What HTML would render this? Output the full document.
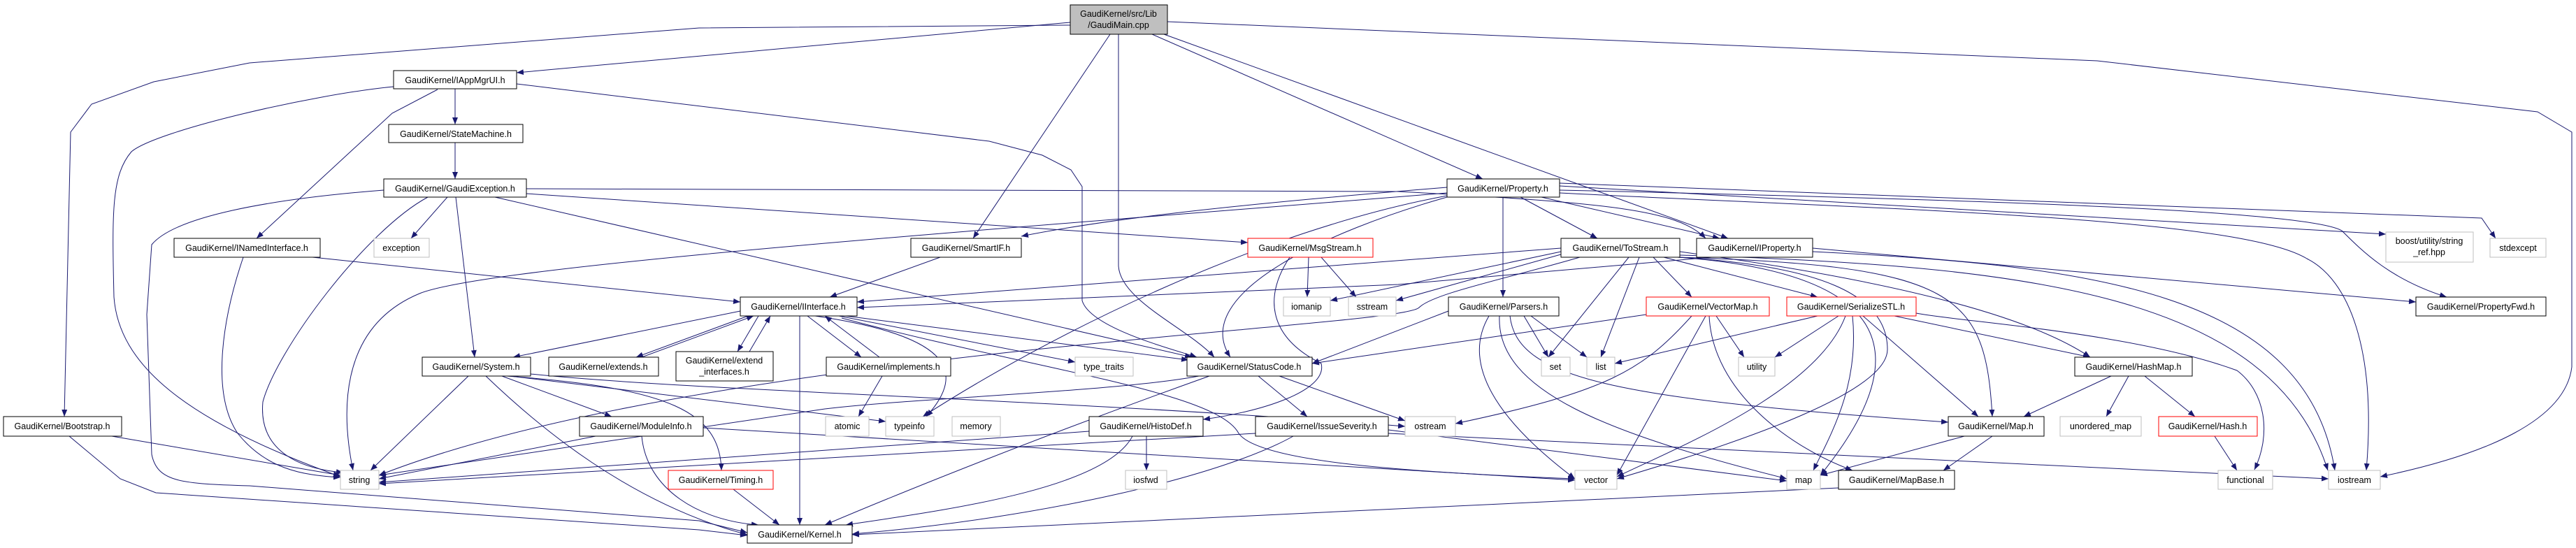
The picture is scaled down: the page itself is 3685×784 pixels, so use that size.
<!DOCTYPE html>
<html><head><meta charset="utf-8"><style>
html,body{margin:0;padding:0;background:#fff;}
svg{display:block;}
text{font-family:"Liberation Sans",sans-serif;font-size:12.5px;fill:#000;text-anchor:middle;}
.e{fill:none;stroke:#191970;stroke-width:1;marker-end:url(#a);}
.b{fill:#fff;stroke:#000;stroke-width:1;}
.r{fill:#fff;stroke:#ff0000;stroke-width:1;}
.g{fill:#fff;stroke:#bfbfbf;stroke-width:1;}
</style></head><body>
<svg width="3685" height="784" viewBox="0 0 3685 784" xmlns="http://www.w3.org/2000/svg">
<defs><marker id="a" markerWidth="10" markerHeight="8" refX="10" refY="4" orient="auto" markerUnits="userSpaceOnUse"><path d="M0,0 L10,4 L0,8 z" fill="#191970"/></marker></defs>
<g>
<path class="e" d="M1531,32 L739,104"/>
<path class="e" d="M1531,36 L1000,40 L357,90 L220,117 L131,149 L101,189 L92,596"/>
<path class="e" d="M1588,49 L1392,341"/>
<path class="e" d="M1600,49 L1600,380 C1602,430 1700,470 1737,511"/>
<path class="e" d="M1648,49 L2121,256"/>
<path class="e" d="M1665,49 L2472,341"/>
<path class="e" d="M1670,31 L3000,87 L3630,160 L3679,189 L3679,525 C3670,600 3560,650 3405,682"/>
<path class="e" d="M651,127 L651,178"/>
<path class="e" d="M626,128 L561,162 L367,341"/>
<path class="e" d="M563,124 C447,135 223,187 188,217 C160,250 160,300 163,425 C170,520 260,600 487,682"/>
<path class="e" d="M739,120 L1415,202 L1491,222 L1532,243 L1548,267 L1548,430 C1560,470 1680,500 1712,511"/>
<path class="e" d="M651,204 L651,256"/>
<path class="e" d="M640,282 L588,341"/>
<path class="e" d="M652,282 L679,511"/>
<path class="e" d="M612,282 C523,330 396,500 376,575 C370,640 420,670 491,676"/>
<path class="e" d="M549,272 C383,285 250,310 217,350 L210,450 L217,650 C225,690 260,692 357,695 L1000,745 L1069,762"/>
<path class="e" d="M708,282 L1705,511"/>
<path class="e" d="M753,277 L1785,347"/>
<path class="e" d="M753,270 L2000,274 C2300,290 2400,300 2440,341"/>
<path class="e" d="M348,368 C320,450 300,560 340,620 C380,670 430,680 487,683"/>
<path class="e" d="M447,368 L1059,432"/>
<path class="e" d="M1345,368 L1187,425"/>
<path class="e" d="M1144,452 L1144,751"/>
<path class="e" d="M1059,445 L734,511"/>
<path class="e" d="M1070,452 L910,511"/>
<path class="e" d="M918,511 L1078,452"/>
<path class="e" d="M1085,452 L1055,503"/>
<path class="e" d="M1072,503 L1102,452"/>
<path class="e" d="M1155,452 L1232,511"/>
<path class="e" d="M1258,511 L1180,452"/>
<path class="e" d="M1200,452 L1538,518"/>
<path class="e" d="M1210,452 L1700,515"/>
<path class="e" d="M1166,452 C1357,480 1385,530 1325,596"/>
<path class="e" d="M1204,455 C1485,530 1740,560 1772,620 C1800,660 2000,675 2253,685"/>
<path class="e" d="M670,538 L530,673"/>
<path class="e" d="M695,538 C770,610 900,720 1069,765"/>
<path class="e" d="M718,538 L875,596"/>
<path class="e" d="M725,538 C960,555 1030,590 1032,673"/>
<path class="e" d="M730,538 L1267,603"/>
<path class="e" d="M759,535 C1000,560 1500,570 2010,610"/>
<path class="e" d="M1262,538 L1228,596"/>
<path class="e" d="M852,624 L542,685"/>
<path class="e" d="M918,624 C925,700 1000,745 1085,751"/>
<path class="e" d="M1006,612 L2253,687"/>
<path class="e" d="M1049,700 L1115,751"/>
<path class="e" d="M160,624 L487,680"/>
<path class="e" d="M99,624 L172,685 L223,705 L1000,758 L1069,766"/>
<path class="e" d="M1800,538 L1870,596"/>
<path class="e" d="M1730,538 C1500,620 1300,700 1180,751"/>
<path class="e" d="M1715,538 C1600,560 1300,570 1180,585 L542,680"/>
<path class="e" d="M1830,538 L2010,602"/>
<path class="e" d="M1640,624 L1640,673"/>
<path class="e" d="M1620,624 C1580,700 1350,730 1210,751"/>
<path class="e" d="M1558,617 L542,690"/>
<path class="e" d="M1850,624 C1750,680 1500,740 1219,764"/>
<path class="e" d="M1796,620 L542,692"/>
<path class="e" d="M1986,615 L2556,688"/>
<path class="e" d="M1986,620 L3331,685"/>
<path class="e" d="M1872,368 L1870,425"/>
<path class="e" d="M1890,368 L1940,425"/>
<path class="e" d="M1845,368 C1810,420 1810,480 1890,520 C1900,560 1800,590 1721,600"/>
<path class="e" d="M2150,282 L2150,425"/>
<path class="e" d="M2175,282 L2285,341"/>
<path class="e" d="M2205,282 L2460,341"/>
<path class="e" d="M2070,268 C1800,290 1600,310 1461,338"/>
<path class="e" d="M2070,276 C1400,330 700,380 600,420 C480,470 490,600 505,673"/>
<path class="e" d="M2070,280 C1800,330 1500,480 1320,596"/>
<path class="e" d="M2070,282 C1900,330 1700,420 1760,511"/>
<path class="e" d="M2231,266 L3413,335"/>
<path class="e" d="M2231,262 L3550,312 L3570,341"/>
<path class="e" d="M2231,272 C2800,285 3300,300 3350,330 C3380,360 3420,400 3500,425"/>
<path class="e" d="M2231,276 C2700,300 3200,310 3300,370 C3360,400 3400,500 3385,673"/>
<path class="e" d="M2330,368 L2215,511"/>
<path class="e" d="M2345,368 L2290,511"/>
<path class="e" d="M2365,368 L2420,425"/>
<path class="e" d="M2380,368 L2600,425"/>
<path class="e" d="M2233,360 L1903,430"/>
<path class="e" d="M2240,362 L1997,430"/>
<path class="e" d="M2233,355 L1226,432"/>
<path class="e" d="M2260,368 C2150,400 2050,420 2030,440 C2000,470 1000,500 542,680"/>
<path class="e" d="M2400,368 C2600,380 2700,420 2700,500 C2700,560 2500,630 2313,685"/>
<path class="e" d="M2400,368 C2700,390 2750,500 2604,680"/>
<path class="e" d="M2400,368 C2800,380 2840,420 2850,596"/>
<path class="e" d="M2403,360 C2700,400 2900,450 2990,511"/>
<path class="e" d="M2403,365 C2900,380 3250,420 3330,673"/>
<path class="e" d="M2593,355 L3456,432"/>
<path class="e" d="M2593,360 C3000,380 3300,420 3340,673"/>
<path class="e" d="M2460,367 L2000,407 L1226,440"/>
<path class="e" d="M2180,452 L2215,511"/>
<path class="e" d="M2190,452 L2270,511"/>
<path class="e" d="M2130,452 C2090,520 2140,600 2253,685"/>
<path class="e" d="M2145,452 C2140,560 2300,620 2556,685"/>
<path class="e" d="M2160,452 C2170,540 2300,570 2787,604"/>
<path class="e" d="M2072,445 L1877,520"/>
<path class="e" d="M2455,452 L2495,511"/>
<path class="e" d="M2440,452 L2313,680"/>
<path class="e" d="M2445,452 C2450,560 2560,640 2650,673"/>
<path class="e" d="M2420,452 C2350,530 2300,560 2082,606"/>
<path class="e" d="M2355,450 L1877,520"/>
<path class="e" d="M2600,452 L2310,520"/>
<path class="e" d="M2630,452 L2539,511"/>
<path class="e" d="M2640,452 C2600,560 2400,640 2313,682"/>
<path class="e" d="M2650,452 C2660,550 2620,620 2594,673"/>
<path class="e" d="M2665,452 L2830,596"/>
<path class="e" d="M2710,452 L2990,511"/>
<path class="e" d="M2741,448 C2800,460 3050,475 3200,530 C3240,560 3250,620 3225,672"/>
<path class="e" d="M3020,538 L2895,596"/>
<path class="e" d="M3045,538 L3013,596"/>
<path class="e" d="M3068,538 L3140,596"/>
<path class="e" d="M3168,624 L3200,673"/>
<path class="e" d="M2810,624 L2604,680"/>
<path class="e" d="M2850,624 L2780,673"/>
<path class="e" d="M2630,698 L1219,765"/>
</g>
<g>
<rect x="1531" y="7" width="139" height="42" fill="#bfbfbf" stroke="#000"/>
<text x="1600" y="24">GaudiKernel/src/Lib</text><text x="1600" y="40">/GaudiMain.cpp</text>
<rect class="b" x="563" y="101" width="176" height="26"/><text x="651" y="119">GaudiKernel/IAppMgrUI.h</text>
<rect class="b" x="556" y="178" width="192" height="26"/><text x="652" y="196">GaudiKernel/StateMachine.h</text>
<rect class="b" x="549" y="256" width="204" height="26"/><text x="651" y="274">GaudiKernel/GaudiException.h</text>
<rect class="b" x="249" y="341" width="209" height="27"/><text x="353" y="359">GaudiKernel/INamedInterface.h</text>
<rect class="g" x="535" y="341" width="79" height="27"/><text x="574" y="359">exception</text>
<rect class="b" x="604" y="511" width="155" height="27"/><text x="681" y="529">GaudiKernel/System.h</text>
<rect class="b" x="785" y="511" width="157" height="27"/><text x="863" y="529">GaudiKernel/extends.h</text>
<rect class="b" x="967" y="503" width="139" height="42"/><text x="1036" y="520">GaudiKernel/extend</text><text x="1036" y="536">_interfaces.h</text>
<rect class="b" x="5" y="596" width="169" height="28"/><text x="89" y="614">GaudiKernel/Bootstrap.h</text>
<rect class="b" x="829" y="596" width="177" height="28"/><text x="917" y="614">GaudiKernel/ModuleInfo.h</text>
<rect class="g" x="487" y="673" width="55" height="27"/><text x="514" y="691">string</text>
<rect class="r" x="956" y="673" width="150" height="27"/><text x="1031" y="691">GaudiKernel/Timing.h</text>
<rect class="b" x="1303" y="341" width="158" height="27"/><text x="1382" y="359">GaudiKernel/SmartIF.h</text>
<rect class="r" x="1785" y="341" width="179" height="27"/><text x="1874" y="359">GaudiKernel/MsgStream.h</text>
<rect class="b" x="1059" y="425" width="167" height="27"/><text x="1142" y="443">GaudiKernel/IInterface.h</text>
<rect class="g" x="1836" y="425" width="67" height="27"/><text x="1869" y="443">iomanip</text>
<rect class="g" x="1929" y="425" width="68" height="27"/><text x="1963" y="443">sstream</text>
<rect class="b" x="1182" y="511" width="178" height="27"/><text x="1271" y="529">GaudiKernel/implements.h</text>
<rect class="g" x="1538" y="511" width="83" height="27"/><text x="1579" y="529">type_traits</text>
<rect class="b" x="1698" y="511" width="179" height="27"/><text x="1787" y="529">GaudiKernel/StatusCode.h</text>
<rect class="g" x="1181" y="596" width="62" height="28"/><text x="1212" y="614">atomic</text>
<rect class="g" x="1267" y="596" width="69" height="28"/><text x="1301" y="614">typeinfo</text>
<rect class="g" x="1362" y="596" width="69" height="28"/><text x="1396" y="614">memory</text>
<rect class="b" x="1558" y="596" width="163" height="28"/><text x="1639" y="614">GaudiKernel/HistoDef.h</text>
<rect class="b" x="1796" y="596" width="190" height="28"/><text x="1891" y="614">GaudiKernel/IssueSeverity.h</text>
<rect class="g" x="1610" y="673" width="59" height="27"/><text x="1639" y="691">iosfwd</text>
<rect class="b" x="1069" y="751" width="150" height="26"/><text x="1144" y="769">GaudiKernel/Kernel.h</text>
<rect class="b" x="2070" y="256" width="161" height="26"/><text x="2150" y="274">GaudiKernel/Property.h</text>
<rect class="b" x="2233" y="341" width="170" height="27"/><text x="2318" y="359">GaudiKernel/ToStream.h</text>
<rect class="b" x="2427" y="341" width="166" height="27"/><text x="2510" y="359">GaudiKernel/IProperty.h</text>
<rect class="b" x="2072" y="425" width="158" height="27"/><text x="2151" y="443">GaudiKernel/Parsers.h</text>
<rect class="r" x="2355" y="425" width="176" height="27"/><text x="2443" y="443">GaudiKernel/VectorMap.h</text>
<rect class="r" x="2556" y="425" width="185" height="27"/><text x="2648" y="443">GaudiKernel/SerializeSTL.h</text>
<rect class="g" x="2205" y="511" width="41" height="27"/><text x="2225" y="529">set</text>
<rect class="g" x="2270" y="511" width="40" height="27"/><text x="2290" y="529">list</text>
<rect class="g" x="2487" y="511" width="52" height="27"/><text x="2513" y="529">utility</text>
<rect class="b" x="2968" y="511" width="168" height="27"/><text x="3052" y="529">GaudiKernel/HashMap.h</text>
<rect class="g" x="2010" y="596" width="72" height="28"/><text x="2046" y="614">ostream</text>
<rect class="b" x="2787" y="596" width="137" height="28"/><text x="2855" y="614">GaudiKernel/Map.h</text>
<rect class="g" x="2253" y="673" width="60" height="27"/><text x="2283" y="691">vector</text>
<rect class="g" x="2556" y="673" width="48" height="27"/><text x="2580" y="691">map</text>
<rect class="b" x="2630" y="673" width="166" height="27"/><text x="2713" y="691">GaudiKernel/MapBase.h</text>
<rect class="g" x="3413" y="332" width="125" height="43"/><text x="3475" y="349">boost/utility/string</text><text x="3475" y="365">_ref.hpp</text>
<rect class="g" x="3562" y="341" width="80" height="27"/><text x="3602" y="359">stdexcept</text>
<rect class="b" x="3456" y="425" width="186" height="27"/><text x="3549" y="443">GaudiKernel/PropertyFwd.h</text>
<rect class="g" x="2947" y="596" width="116" height="28"/><text x="3005" y="614">unordered_map</text>
<rect class="r" x="3088" y="596" width="141" height="28"/><text x="3158" y="614">GaudiKernel/Hash.h</text>
<rect class="g" x="3173" y="673" width="78" height="27"/><text x="3212" y="691">functional</text>
<rect class="g" x="3331" y="673" width="74" height="27"/><text x="3368" y="691">iostream</text>
</g>
</svg>
</body></html>
